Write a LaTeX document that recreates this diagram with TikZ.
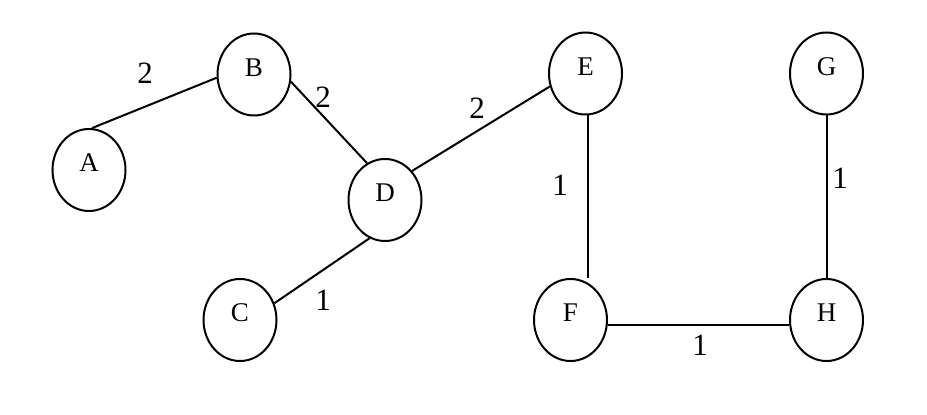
\documentclass[tikz,border=0pt]{standalone}
\usepackage{fontspec}
\setmainfont{Liberation Serif}
\usetikzlibrary{shapes.geometric}
\newcommand{\vlabel}[1]{\raisebox{-2pt}[0pt][0pt]{#1}}
\begin{document}
\begin{tikzpicture}[x=1pt,y=1pt,
  vert/.style={draw=black, line width=2pt, ellipse, minimum width=73pt, minimum height=82pt, inner sep=0pt, font=\fontsize{27}{27}\selectfont},
  wt/.style={inner sep=0pt, font=\fontsize{31}{31}\selectfont},
  edge/.style={draw=black, line width=2pt}]
\useasboundingbox (0,0) rectangle (927,415);
\node[vert] (A) at (89,245) {\vlabel{A}};
\node[vert] (B) at (254,340.5) {\vlabel{B}};
\node[vert] (C) at (240,95) {\vlabel{C}};
\node[vert] (D) at (385,215) {\vlabel{D}};
\node[vert] (E) at (585.5,341.5) {\vlabel{E}};
\node[vert] (F) at (570.5,95) {\vlabel{F}};
\node[vert] (G) at (826.5,341.5) {\vlabel{G}};
\node[vert] (H) at (826.5,95) {\vlabel{H}};
\draw[edge] (A.86) -- (B.185);
\draw[edge] (B.349) -- (D.116);
\draw[edge] (D.47) -- (E.200);
\draw[edge] (D.248) -- (C.26);
\draw[edge] ([xshift=2.5pt]E.south) -- ([xshift=2.5pt]E.south |- F.north);
\draw[edge] ([yshift=-5pt]F.east) -- ([yshift=-5pt]F.east -| H.west);
\draw[edge] (G.south) -- (H.north);
\node[wt] (wab) at (145,342) {2};
\node[wt] (wbd) at (323,318) {2};
\node[wt] (wdc) at (323,115) {1};
\node[wt] (wde) at (477,307) {2};
\node[wt] (wef) at (560,230) {1};
\node[wt] (wgh) at (840,237) {1};
\node[wt] (wfh) at (700,70) {1};
\end{tikzpicture}
\end{document}
